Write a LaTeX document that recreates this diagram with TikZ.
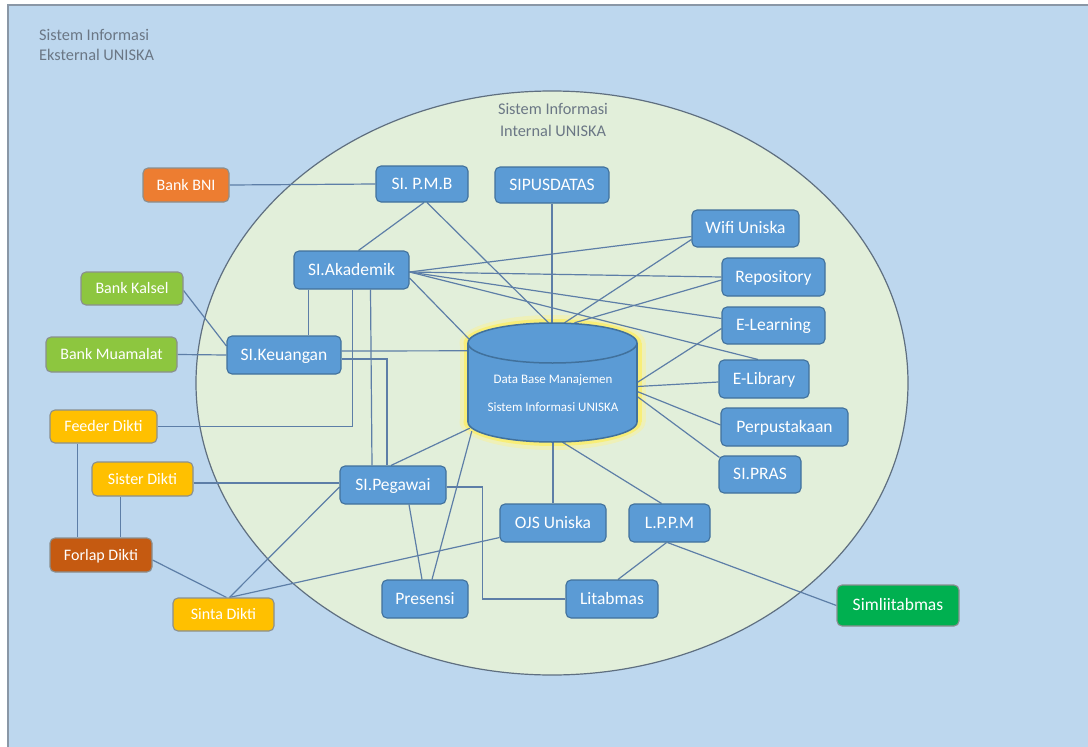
\documentclass[tikz,border=0pt]{standalone}
\usepackage{fontspec}
\setmainfont{Carlito}
\usetikzlibrary{calc}
\pgfdeclarelayer{bg}
\pgfsetlayers{bg,main}
\definecolor{bgblue}{HTML}{BDD7EE}
\definecolor{innerc}{HTML}{E2EFDA}
\definecolor{ellborder}{HTML}{5F6F80}
\definecolor{frameb}{HTML}{8A97A6}
\definecolor{boxblue}{HTML}{5B9BD5}
\definecolor{boxborder}{HTML}{41719C}
\definecolor{extborder}{HTML}{8A8F8F}
\definecolor{linkc}{HTML}{5D7EA7}
\definecolor{titlec}{HTML}{6B7785}
\definecolor{cbni}{HTML}{ED7D31}
\definecolor{cgreen}{HTML}{8DC63F}
\definecolor{camber}{HTML}{FFC000}
\definecolor{cforlap}{HTML}{C55A11}
\definecolor{csiml}{HTML}{00B050}
\definecolor{glowa}{HTML}{EEF0B8}
\definecolor{glowb}{HTML}{F8EE78}
\begin{document}
\begin{tikzpicture}[x=1pt,y=-1pt,
  sz/.style 2 args={minimum width=#1pt, minimum height=#2pt},
  box/.style={draw=boxborder, fill=boxblue, line width=1.1pt, rounded corners=5pt, text=white, inner sep=0pt, font=\fontsize{17.5}{20}\selectfont, text height=13pt, text depth=3pt},
  ext/.style={draw=extborder, line width=1.1pt, rounded corners=5pt, text=white, inner sep=0pt, font=\fontsize{16}{19}\selectfont, text height=13pt, text depth=2.5pt},
  link/.style={draw=linkc, line width=1.2pt},
  title/.style={text=titlec, inner sep=0pt, font=\fontsize{16.3}{20}\selectfont}]
\useasboundingbox (0,0) rectangle (1088,747);

% nodes
\node[ext, fill=cbni, sz={86}{34}] (bni) at (186,185) {Bank BNI};
\node[box, sz={92}{36}] (pmb) at (422,184) {SI. P.M.B};
\node[box, sz={114}{36}] (sipus) at (552,185) {SIPUSDATAS};
\node[box, sz={107}{37}] (wifi) at (745.5,228.5) {Wifi Uniska};
\node[box, sz={103}{38}] (repo) at (773.5,277) {Repository};
\node[box, sz={103}{37}] (elearn) at (773.5,325.5) {E-Learning};
\node[box, sz={90}{38}] (elib) at (764,379) {E-Library};
\node[box, sz={127}{38}] (perpus) at (784.5,427) {Perpustakaan};
\node[box, sz={82}{37}] (pras) at (760,474.5) {SI.PRAS};
\node[box, sz={115}{38}] (akad) at (351.5,270) {SI.Akademik};
\node[ext, fill=cgreen, sz={102}{33}] (kalsel) at (132,288.5) {Bank Kalsel};
\node[ext, fill=cgreen, sz={131}{35}] (muam) at (111.5,354.5) {Bank Muamalat};
\node[box, sz={114}{38}] (keu) at (284,355) {SI.Keuangan};
\node[ext, fill=camber, sz={107}{33}] (feeder) at (103.5,426.5) {Feeder Dikti};
\node[ext, fill=camber, sz={101}{34}] (sister) at (142.5,479) {Sister Dikti};
\node[ext, fill=cforlap, sz={102}{34}] (forlap) at (101,555) {Forlap Dikti};
\node[ext, fill=camber, sz={101}{33}] (sinta) at (223.5,614.5) {Sinta Dikti};
\node[box, sz={106}{38}] (peg) at (393,485) {SI.Pegawai};
\node[box, sz={106}{38}] (ojs) at (553,523) {OJS Uniska};
\node[box, sz={81}{38}] (lppm) at (669.5,523) {L.P.P.M};
\node[box, sz={86}{38}] (pres) at (425,599) {Presensi};
\node[box, sz={92}{38}] (lit) at (612,599) {Litabmas};
\node[box, fill=csiml, draw=extborder, sz={122}{41}] (siml) at (898,605.5) {Simliitabmas};
\node[inner sep=0pt, sz={169}{119}] (db) at (552.5,382.5) {};

% database cylinder
\fill[boxblue, draw=boxborder, line width=1.5pt] (552.5,422) ellipse [x radius=84.5pt, y radius=20pt];
\fill[boxblue] (468,343) rectangle (637,422);
\draw[boxborder, line width=1.5pt] (468,343) -- (468,422) (637,343) -- (637,422);
\fill[boxblue, draw=boxborder, line width=1.5pt] (552.5,343) ellipse [x radius=84.5pt, y radius=20pt];
\node[text=white, inner sep=0pt, font=\fontsize{13}{28}\selectfont, align=center] (dbt) at (553,393) {Data Base Manajemen\\Sistem Informasi UNISKA};

\begin{pgfonlayer}{bg}
\fill[white] (0,0) rectangle (1088,747);
\fill[bgblue] (8,5) rectangle (1088,747);
\draw[frameb, line width=1.5pt] (8,747) -- (8,5) -- (1088,5);
\fill[innerc, draw=ellborder, line width=1.2pt] (552,383) ellipse [x radius=356pt, y radius=292pt];
\node[title, anchor=base west] (ext1) at (39,40) {Sistem Informasi};
\node[title, anchor=base west] (ext2) at (39,60) {Eksternal UNISKA};
\node[title, anchor=base] (int1) at (553,114) {Sistem Informasi};
\node[title, anchor=base] (int2) at (553,136) {Internal UNISKA};
% glow
\fill[glowa] (552.5,343) ellipse [x radius=93pt, y radius=28pt];
\fill[glowa] (459.5,343) rectangle (645.5,422);
\fill[glowa] (552.5,422) ellipse [x radius=93pt, y radius=28pt];
\fill[glowb] (552.5,343) ellipse [x radius=89pt, y radius=24pt];
\fill[glowb] (463.5,343) rectangle (641.5,422);
\fill[glowb] (552.5,422) ellipse [x radius=89pt, y radius=24pt];

% connectors
\coordinate (a1) at ($(akad.south)+(-43,0)$);
\coordinate (a2) at ($(akad.south)+(1,0)$);
\coordinate (k1) at ($(keu.east)+(0,4)$);
\coordinate (s1) at ($(sister.south)+(-22,0)$);
\coordinate (f1) at ($(feeder.south)+(-26,0)$);
\coordinate (p1) at ($(peg.east)+(0,2)$);

\draw[link] (bni.east) -- (pmb.west);
\draw[link] ($(pmb.south)+(2,0)$) -- ($(akad.north)+(7,0)$);
\draw[link] ($(pmb.south)+(5,0)$) -- ($(db.north)+(-4,0)$);
\draw[link] (sipus.south) -- (sipus.south |- db.north);
\draw[link] ($(wifi.west)+(0,11)$) -- ($(db.north)+(12,0)$);
\draw[link] ($(repo.west)+(0,3)$) -- ($(db.north)+(22,0)$);
\draw[link] ($(akad.east)+(0,2)$) -- ($(wifi.west)+(0,8)$);
\draw[link] ($(akad.east)+(0,2)$) -- (repo.west);
\draw[link] ($(akad.east)+(0,2)$) -- ($(elearn.west)+(0,-7)$);
\draw[link] ($(akad.east)+(0,2)$) -- ($(elib.north)+(-6,0)$);
\draw[link] ($(akad.east)+(0,8)$) -- ($(db.north west)+(1,16)$);
\draw[link] ($(elearn.west)+(0,3)$) -- (db.east);
\draw[link] ($(elib.west)+(0,3)$) -- ($(db.east)+(0,4)$);
\draw[link] ($(perpus.west)+(0,-2)$) -- ($(db.east)+(0,9)$);
\draw[link] ($(pras.north west)+(1,2)$) -- ($(db.east)+(0,14)$);
\draw[link] ($(lppm.north)+(-8,0)$) -- ($(db.south)+(10,0)$);
\draw[link] (ojs.north) -- (ojs.north |- db.south);
\draw[link] ($(keu.east)+(0,-4)$) -- ($(db.north west)+(0,28)$);
\draw[link] (k1) -| ($(peg.north)+(-6,0)$);
\draw[link] (a1) -- (a1 |- keu.north);
\draw[link] (a2) |- (feeder.east);
\draw[link] ($(akad.south)+(19,0)$) -- ($(peg.north)+(-21,0)$);
\draw[link] ($(kalsel.east)+(0,2)$) -- ($(keu.west)+(0,-9)$);
\draw[link] (muam.east) -- (keu.west);
\draw[link] ($(sister.east)+(0,4)$) -- ($(peg.west)+(0,-2)$);
\draw[link] (s1) -- (s1 |- forlap.north);
\draw[link] (f1) -- (f1 |- forlap.north);
\draw[link] ($(forlap.east)+(0,5)$) -- ($(sinta.north)+(3,0)$);
\draw[link] ($(sinta.north)+(6,0)$) -- ($(peg.west)+(0,2)$);
\draw[link] ($(sinta.north)+(6,0)$) -- ($(ojs.south west)+(0,-5)$);
\draw[link] ($(peg.north)+(-2,0)$) -- ($(db.south west)+(2,-14)$);
\draw[link] ($(peg.south)+(16,0)$) -- ($(pres.north)+(-3,0)$);
\draw[link] ($(pres.north)+(7,0)$) -- ($(db.south west)+(4,-11)$);
\draw[link] (p1) -- ++(36,0) |- (lit.west);
\draw[link] ($(lppm.south)+(-3,0)$) -- ($(lit.north)+(6,0)$);
\draw[link] ($(lppm.south)+(-2,0)$) -- (siml.west);
\end{pgfonlayer}
\end{tikzpicture}
\end{document}
